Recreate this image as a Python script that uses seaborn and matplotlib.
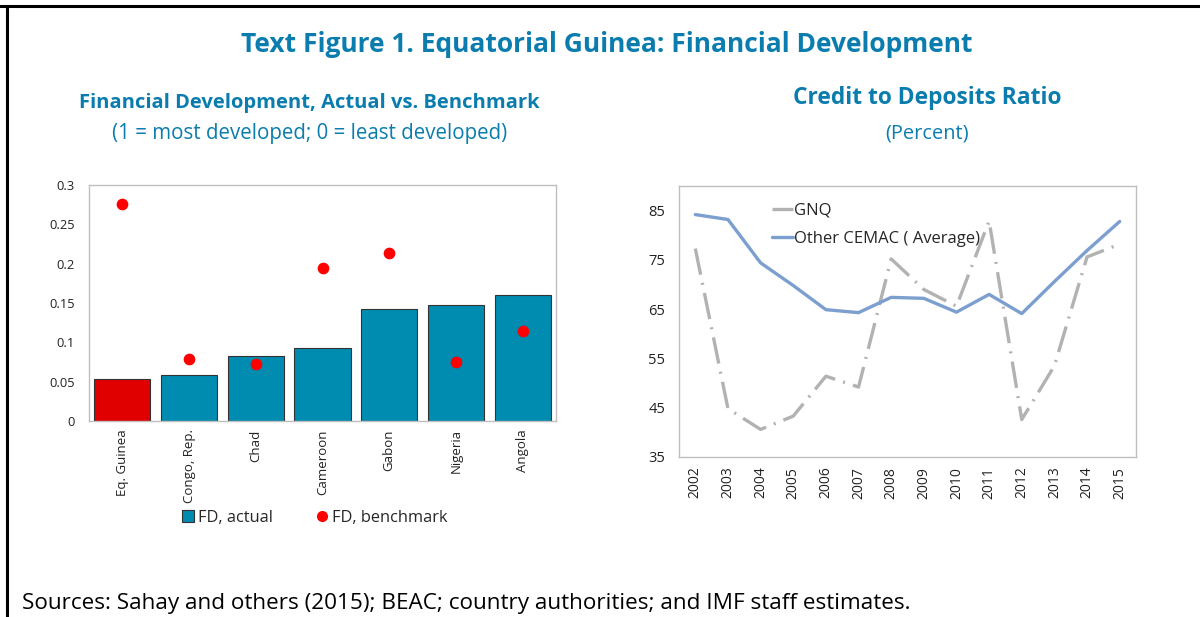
import numpy as np
import pandas as pd
import seaborn as sns
import matplotlib.pyplot as plt
from matplotlib.lines import Line2D
from matplotlib.patches import Patch

# left panel: financial development index
countries = ['Eq. Guinea', 'Congo, Rep.', 'Chad', 'Cameroon', 'Gabon', 'Nigeria', 'Angola']
fd_actual = [0.053, 0.058, 0.083, 0.093, 0.142, 0.147, 0.160]
fd_benchmark = [0.276, 0.079, 0.072, 0.195, 0.214, 0.075, 0.115]

# right panel: credit to deposits ratio
years = list(range(2002, 2016))
gnq = [77.3, 44.8, 40.6, 43.3, 51.4, 49.2, 75.2, 69.0, 65.6, 82.9, 42.6, 53.5, 75.6, 78.2]
cemac_avg = [84.2, 83.2, 74.4, 69.8, 64.9, 64.3, 67.4, 67.2, 64.4, 68.0, 64.1, 70.6, 76.9, 82.8]

TITLE_BLUE = '#0A7DAE'
BAR_TEAL = '#008BB0'
SPINE = '#BFBFBF'
GNQ_DASH = (0, (8, 2.5, 0.6, 2.5))

sns.set_style('white')
plt.rcParams['font.family'] = ['Open Sans', 'DejaVu Sans']

fig = plt.figure(figsize=(12, 6.17), dpi=100)

# frame lines on top and left of the figure
fig.add_artist(Line2D([0, 1], [1 - 6 / 617] * 2, color='black', lw=2.2, transform=fig.transFigure))
fig.add_artist(Line2D([7 / 1200] * 2, [0, 1 - 6 / 617], color='black', lw=2.2, transform=fig.transFigure))

fig.text(0.506, 1 - 45 / 617, 'Text Figure 1. Equatorial Guinea: Financial Development',
         ha='center', va='center', fontsize=19, fontweight='bold', color=TITLE_BLUE)
fig.text(0.258, 1 - 103 / 617, 'Financial Development, Actual vs. Benchmark',
         ha='center', va='center', fontsize=14.5, fontweight='bold', color=TITLE_BLUE)
fig.text(0.258, 1 - 134 / 617, '(1 = most developed; 0 = least developed)',
         ha='center', va='center', fontsize=14.8, color=TITLE_BLUE)
fig.text(0.7725, 1 - 98 / 617, 'Credit to Deposits Ratio',
         ha='center', va='center', fontsize=16.4, fontweight='bold', color=TITLE_BLUE)
fig.text(0.7725, 1 - 133 / 617, '(Percent)',
         ha='center', va='center', fontsize=14.4, color=TITLE_BLUE)
fig.text(22 / 1200, 1 - 603 / 617,
         'Sources: Sahay and others (2015); BEAC; country authorities; and IMF staff estimates.',
         ha='left', va='center', fontsize=16.2, color='black')

# ---- left panel
ax1 = fig.add_axes([89 / 1200, 1 - 421 / 617, 467 / 1200, 236 / 617])
df_fd = pd.DataFrame({'country': countries, 'actual': fd_actual, 'benchmark': fd_benchmark})
bar_colors = ['#E00000'] + [BAR_TEAL] * (len(countries) - 1)
sns.barplot(data=df_fd, x='country', y='actual', hue='country', palette=bar_colors,
            saturation=1, width=0.84, edgecolor='#333333', linewidth=0.8, legend=False, ax=ax1)
ax1.scatter(np.arange(len(countries)), df_fd['benchmark'], s=55, color='#FF0000', zorder=3)
ax1.set_ylim(0, 0.3)
ax1.set_xlim(-0.5, len(countries) - 0.5)
ax1.set_yticks([0, 0.05, 0.1, 0.15, 0.2, 0.25, 0.3])
ax1.set_yticklabels(['0', '0.05', '0.1', '0.15', '0.2', '0.25', '0.3'])
ax1.set_xticks(range(len(countries)))
ax1.set_xticklabels(countries, rotation=90)
ax1.set_xticks(np.arange(-0.5, len(countries)), minor=True)
ax1.tick_params(axis='x', which='major', length=0, labelsize=9.5, pad=6, colors='#222222')
ax1.tick_params(axis='x', which='minor', length=3, color=SPINE, direction='out')
ax1.tick_params(axis='y', length=3, color=SPINE, labelsize=9.3, colors='#222222', pad=7)
ax1.set_xlabel('')
ax1.set_ylabel('')
for sp in ax1.spines.values():
    sp.set_color(SPINE)
    sp.set_linewidth(1)
handles = [Patch(facecolor=BAR_TEAL, edgecolor='#333333', linewidth=0.8, label='FD, actual'),
           Line2D([], [], marker='o', color='none', markerfacecolor='#FF0000',
                  markeredgecolor='#FF0000', markersize=7, label='FD, benchmark')]
ax1.legend(handles=handles, loc='center', bbox_to_anchor=(0.483, -0.41), ncol=2, frameon=False,
           fontsize=11.8, handlelength=0.75, handleheight=0.75, handletextpad=0.25, columnspacing=2.6)

# ---- right panel
ax2 = fig.add_axes([679 / 1200, 1 - 457 / 617, 457 / 1200, 271 / 617])
df_cd = pd.DataFrame({'year': years + years,
                      'value': gnq + cemac_avg,
                      'series': ['GNQ'] * len(years) + ['Other CEMAC ( Average)'] * len(years)})
sns.lineplot(data=df_cd, x='year', y='value', hue='series',
             palette={'GNQ': '#B2B2B2', 'Other CEMAC ( Average)': '#7C9FCF'},
             linewidth=2.4, ax=ax2)
ax2.lines[0].set_linestyle(GNQ_DASH)
ax2.set_xlim(2001.5, 2015.5)
ax2.set_ylim(35, 90)
ax2.set_yticks([35, 45, 55, 65, 75, 85])
ax2.set_xticks(years)
ax2.set_xticklabels([str(y) for y in years], rotation=90)
ax2.set_xticks(np.arange(2001.5, 2016), minor=True)
ax2.tick_params(axis='x', which='major', length=0, labelsize=10, pad=7, colors='#222222')
ax2.tick_params(axis='x', which='minor', length=4, color=SPINE, direction='out')
ax2.tick_params(axis='y', length=4, color=SPINE, labelsize=10.5, colors='#222222', pad=6)
ax2.set_xlabel('')
ax2.set_ylabel('')
for sp in ax2.spines.values():
    sp.set_color(SPINE)
    sp.set_linewidth(1)
leg = ax2.legend(loc='upper left', bbox_to_anchor=(0.17, 0.995), frameon=False, fontsize=12,
                 handlelength=1.3, handletextpad=0.05, labelspacing=0.75)
leg.get_lines()[0].set_linestyle(GNQ_DASH)

fig.savefig('out.png', dpi=100)
